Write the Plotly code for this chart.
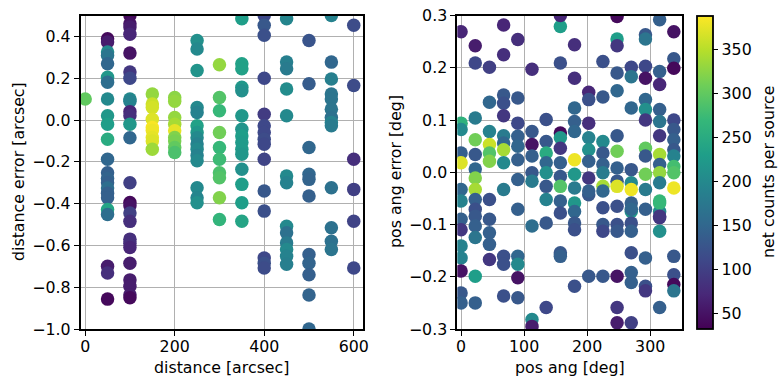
import plotly.graph_objects as go

# ---------------- left panel data ----------------
dist = ([0] + [50]*22 + [100]*26 + [150]*9 + [200]*9 + [250]*15 + [300]*10 +
        [350]*15 + [400]*15 + [450]*13 + [500]*11 + [550]*13 + [600]*6 + [50])
dist_err = [
    0.10,
    0.389, 0.373, 0.325, 0.309, 0.269, 0.205, 0.181, 0.10, 0.02, -0.02, -0.092,
    -0.188, -0.252, -0.28, -0.30, -0.325, -0.35, -0.372, -0.428, -0.452, -0.70, -0.732,
    0.5, 0.46, 0.445, 0.41, 0.32, 0.23, 0.2, 0.1, 0.09, 0.04, 0.02, -0.02, -0.085,
    -0.3, -0.395, -0.41, -0.445, -0.485, -0.57, -0.59, -0.61, -0.685, -0.765, -0.795,
    -0.836, -0.85,
    0.124, 0.076, 0.06, 0.004, -0.036, -0.05, -0.084, -0.1, -0.14,
    0.108, 0.09, 0.012, -0.02, -0.052, -0.084, -0.1, -0.132, -0.155,
    0.38, 0.34, 0.237, 0.06, 0.036, -0.028, -0.06, -0.085, -0.115, -0.14, -0.17,
    -0.195, -0.324, -0.372, -0.396,
    0.264, 0.108, 0.044, -0.06, -0.132, -0.188, -0.252, -0.276, -0.372, -0.476,
    0.485, 0.269, 0.245, 0.157, 0.14, 0.02, -0.044, -0.076, -0.108, -0.14, -0.164,
    -0.236, -0.308, -0.396, -0.484,
    0.5, 0.453, 0.405, 0.2, 0.028, -0.028, -0.06, -0.092, -0.116, -0.188, -0.34,
    -0.436, -0.66, -0.685, -0.708,
    0.485, 0.277, 0.245, 0.148, 0.02, -0.268, -0.3, -0.508, -0.54, -0.588, -0.62,
    -0.652, -0.69,
    0.38, 0.173, -0.132, -0.26, -0.284, -0.364, -0.644, -0.685, -0.74, -0.837, -1.0,
    0.5, 0.277, 0.196, 0.124, 0.1, 0.052, 0.012, -0.012, -0.028, -0.324, -0.516,
    -0.58, -0.62,
    0.453, 0.165, -0.188, -0.332, -0.484, -0.708,
    -0.857,
]
dist_cnt = [
    300,
    40, 60, 200, 170, 150, 220, 160, 200, 220, 230, 250,
    150, 140, 145, 140, 160, 140, 140, 240, 160, 60, 80,
    40, 50, 60, 70, 50, 90, 110, 200, 190, 70, 80, 220, 150,
    100, 40, 50, 100, 80, 80, 80, 70, 60, 60, 60,
    60, 40,
    330, 360, 365, 370, 385, 380, 375, 370, 335,
    325, 330, 330, 340, 375, 320, 315, 300, 285,
    210, 200, 215, 200, 190, 235, 220, 200, 190, 200, 190,
    200, 200, 195, 210,
    330, 290, 270, 310, 270, 275, 285, 290, 320, 265,
    230, 235, 235, 220, 210, 220, 215, 230, 225, 225, 220,
    210, 230, 230, 240,
    110, 130, 120, 110, 95, 110, 110, 115, 110, 105, 130,
    120, 110, 120, 115,
    195, 185, 180, 205, 200, 200, 190, 200, 165, 180, 200,
    190, 185,
    125, 135, 150, 150, 145, 140, 140, 145, 140, 145, 150,
    190, 150, 185, 170, 170, 170, 165, 190, 180, 165, 165,
    165, 170,
    115, 115, 80, 100, 105, 110,
    40,
]

# ---------------- right panel data ----------------
pa = [
    0, 67.5, 22.5, 67.5, 90, 22.5, 45, 112.5, 157.5, 157.5, 157.5, 180, 180, 225,
    247.5, 247.5, 247.5, 247.5, 270, 270, 292.5, 292.5, 292.5, 292.5, 315, 315, 315,
    337.5, 337.5, 337.5,
    45, 67.5, 67.5, 90, 67.5, 90, 22.5, 0, 135, 202.5, 202.5, 225, 247.5, 270,
    292.5, 292.5, 292.5, 315, 315, 315, 337.5, 337.5, 180, 180, 202.5,
    0, 0, 0, 22.5, 22.5, 22.5, 22.5, 45, 45, 45, 45, 67.5, 67.5, 67.5, 67.5,
    90, 90, 90, 90, 112.5, 112.5, 112.5, 112.5, 112.5, 135, 135, 135, 135, 135, 135,
    157.5, 157.5, 157.5, 157.5, 157.5, 157.5, 157.5, 157.5,
    180, 180, 180, 180, 180, 180, 202.5, 202.5, 202.5, 202.5, 202.5,
    225, 225, 225, 225, 225, 225, 225, 247.5, 247.5, 247.5, 247.5, 247.5, 247.5,
    270, 270, 270, 270, 270, 292.5, 292.5, 292.5, 292.5, 292.5,
    315, 315, 315, 315, 315, 315, 315, 337.5, 337.5, 337.5, 337.5, 337.5, 337.5,
    0, 0, 0, 0, 0, 0, 0, 0, 0, 22.5, 22.5, 22.5, 22.5, 22.5, 22.5, 22.5, 22.5,
    45, 45, 45, 45, 45, 67.5, 67.5, 67.5, 67.5, 90, 90, 90, 90, 90,
    112.5, 112.5, 112.5, 135, 135, 157.5, 157.5, 180, 180, 180, 202.5, 202.5,
    225, 225, 225, 247.5, 247.5, 247.5, 247.5, 247.5,
    270, 270, 270, 270, 270, 270, 270, 292.5, 292.5, 292.5,
    315, 315, 315, 315, 337.5, 337.5, 337.5, 337.5,
]
pa_err = [
    0.269, 0.282, 0.242, 0.225, 0.254, 0.209, 0.201, 0.197, 0.209, 0.279, 0.3, 0.244,
    0.18, 0.212, 0.298, 0.255, 0.242, 0.19, 0.201, 0.183, 0.263, 0.255, 0.203, 0.18,
    0.292, 0.193, 0.168, 0.269, 0.217, 0.199,
    0.134, 0.148, 0.132, 0.142, 0.108, 0.094, 0.104, 0.094, 0.101, 0.153, 0.139,
    0.144, 0.156, 0.123, 0.139, 0.12, 0.1, 0.12, 0.097, 0.07, 0.1, 0.082, 0.123,
    0.097, 0.094,
    0.082, 0.037, 0.018, 0.062, 0.034, 0.006, -0.011, 0.078, 0.053, 0.037, 0.021,
    0.07, 0.056, 0.043, 0.018, 0.069, 0.05, 0.024, -0.014, 0.078, 0.053, 0.031,
    -0.001, -0.017, 0.059, 0.037, 0.018, -0.001, -0.027, -0.052,
    0.075, 0.066, 0.046, 0.018, -0.008, -0.027, -0.055, -0.078,
    0.078, 0.024, -0.004, -0.03, -0.059, -0.075, 0.066, 0.043, 0.021, -0.011, -0.043,
    0.059, 0.037, 0.015, -0.001, -0.027, -0.036, -0.068, 0.07, 0.04, 0.008, -0.017,
    -0.027, -0.065,
    0.005, -0.02, -0.033, -0.059, -0.075, 0.046, 0.031, -0.004, -0.033, -0.071,
    0.034, 0.015, -0.001, -0.02, -0.055, -0.075, -0.087, 0.062, 0.043, 0.031, 0.011,
    -0.001, -0.03,
    -0.033, -0.055, -0.09, -0.11, -0.141, -0.164, -0.189, -0.231, -0.25,
    -0.033, -0.052, -0.071, -0.084, -0.103, -0.125, -0.199, -0.25,
    -0.052, -0.09, -0.116, -0.138, -0.167, -0.033, -0.161, -0.176, -0.237,
    -0.071, -0.161, -0.176, -0.202, -0.24,
    -0.103, -0.282, -0.295, -0.097, -0.259, -0.154, -0.161, -0.097, -0.11, -0.218,
    -0.036, -0.199,
    -0.1, -0.113, -0.199, -0.1, -0.113, -0.199, -0.259, -0.288,
    -0.071, -0.097, -0.113, -0.154, -0.192, -0.211, -0.288, -0.164, -0.218, -0.227,
    -0.059, -0.084, -0.113, -0.259, -0.161, -0.196, -0.215, -0.227,
]
pa_cnt = [
    70, 70, 60, 80, 80, 110, 100, 80, 120, 230, 70, 80, 80, 120, 40, 230, 90, 130,
    110, 170, 130, 170, 110, 50, 140, 140, 70, 50, 130, 40,
    150, 130, 120, 130, 90, 110, 180, 260, 120, 70, 120, 130, 150, 150, 150, 210,
    90, 140, 170, 90, 110, 130, 150, 140, 80,
    200, 140, 370, 310, 130, 150, 320, 190, 360, 290, 320, 180, 150, 340, 200,
    140, 150, 140, 140, 130, 50, 140, 130, 180, 130, 250, 150, 210, 130, 190,
    40, 220, 90, 140, 130, 290, 140, 120,
    150, 380, 220, 180, 220, 150, 190, 210, 140, 90, 130,
    200, 130, 140, 180, 340, 150, 120, 130, 310, 140, 130, 370, 120,
    130, 200, 380, 140, 220, 300, 130, 310, 180, 140,
    340, 140, 330, 180, 270, 200, 90, 140, 130, 190, 280, 290, 380,
    150, 190, 140, 90, 190, 190, 50, 130, 140,
    340, 140, 120, 130, 140, 170, 230, 140,
    120, 130, 140, 140, 90, 180, 120, 120, 120,
    140, 150, 200, 50, 130,
    160, 200, 60, 130, 110, 130, 140, 130, 120, 120,
    140, 130,
    130, 110, 130, 120, 130, 50, 90, 60,
    150, 120, 140, 120, 140, 140, 100, 140, 120, 90,
    270, 90, 210, 140, 130, 120, 40, 170,
]

cb_ticks = [50, 100, 150, 200, 250, 300, 350]

W, H = 784, 384
def fx(p): return p / W
def fy(p): return 1 - p / H

FONT = "DejaVu Sans"
fs = 15.8

fig = go.Figure()
fig.add_trace(go.Scatter(
    x=dist, y=dist_err, mode="markers", xaxis="x", yaxis="y",
    marker=dict(size=13.5, color=dist_cnt, coloraxis="coloraxis", line=dict(width=0)),
    showlegend=False, cliponaxis=True, hoverinfo="skip"))
fig.add_trace(go.Scatter(
    x=pa, y=pa_err, mode="markers", xaxis="x2", yaxis="y2",
    marker=dict(size=13.5, color=pa_cnt, coloraxis="coloraxis", line=dict(width=0)),
    showlegend=False, cliponaxis=True, hoverinfo="skip"))

ax_common = dict(showline=True, linecolor="black", linewidth=1.8, mirror=True,
                 ticks="outside", ticklen=5, tickwidth=1.1, tickcolor="black",
                 showgrid=True, gridcolor="#b0b0b0", gridwidth=1, zeroline=False,
                 tickfont=dict(family=FONT, size=fs, color="black"), automargin=False)

fig.update_layout(
    width=W, height=H, margin=dict(l=0, r=0, t=0, b=0),
    paper_bgcolor="white", plot_bgcolor="white",
    font=dict(family=FONT, size=fs, color="black"),
    xaxis=dict(domain=[fx(80.7), fx(362.7)], range=[-10, 620], tick0=0, dtick=200,
               anchor="y", ticklabelstandoff=-3, **ax_common),
    yaxis=dict(domain=[fy(329), fy(15.5)], range=[-1.0, 0.5], tick0=-1.0, dtick=0.2,
               tickformat=".1f", anchor="x", **ax_common),
    xaxis2=dict(domain=[fx(457.3), fx(681.7)], range=[-6, 350], tick0=0, dtick=100,
                anchor="y2", ticklabelstandoff=-3, **ax_common),
    yaxis2=dict(domain=[fy(329), fy(15.5)], range=[-0.3, 0.3], tick0=-0.3, dtick=0.1,
                tickformat=".1f", anchor="x2", **ax_common),
    coloraxis=dict(
        colorscale="Viridis", cmin=32, cmax=388,
        colorbar=dict(
            x=fx(696.7), xanchor="left", xref="paper", xpad=0, ypad=0,
            y=fy(329), yanchor="bottom", yref="paper",
            len=(329 - 15.7) / H, lenmode="fraction",
            thickness=15.6, thicknessmode="pixels",
            outlinewidth=1.8, outlinecolor="black",
            tickmode="array", tickvals=cb_ticks, ticktext=[str(t) for t in cb_ticks],
            ticks="outside", ticklen=5, tickwidth=1.1, tickcolor="black",
            tickfont=dict(family=FONT, size=fs, color="black"),
        ),
    ),
    annotations=[
        dict(text="distance [arcsec]", x=fx(221.7), y=fy(367), xref="paper", yref="paper",
             showarrow=False, xanchor="center", yanchor="middle", borderpad=0,
             font=dict(family=FONT, size=fs)),
        dict(text="pos ang [deg]", x=fx(569.5), y=fy(367), xref="paper", yref="paper",
             showarrow=False, xanchor="center", yanchor="middle", borderpad=0,
             font=dict(family=FONT, size=fs)),
        dict(text="distance error [arcsec]", x=fx(18), y=fy(172), xref="paper", yref="paper",
             showarrow=False, xanchor="center", yanchor="middle", textangle=-90,
             font=dict(family=FONT, size=fs)),
        dict(text="pos ang error [deg]", x=fx(395), y=fy(172), xref="paper", yref="paper",
             showarrow=False, xanchor="center", yanchor="middle", textangle=-90,
             font=dict(family=FONT, size=fs)),
        dict(text="net counts per source", x=fx(768), y=fy(172), xref="paper", yref="paper",
             showarrow=False, xanchor="center", yanchor="middle", textangle=-90,
             font=dict(family=FONT, size=fs)),
    ],
)

fig.write_html("out.html", config={"displayModeBar": False},
               post_script="document.body.style.margin='0';")
